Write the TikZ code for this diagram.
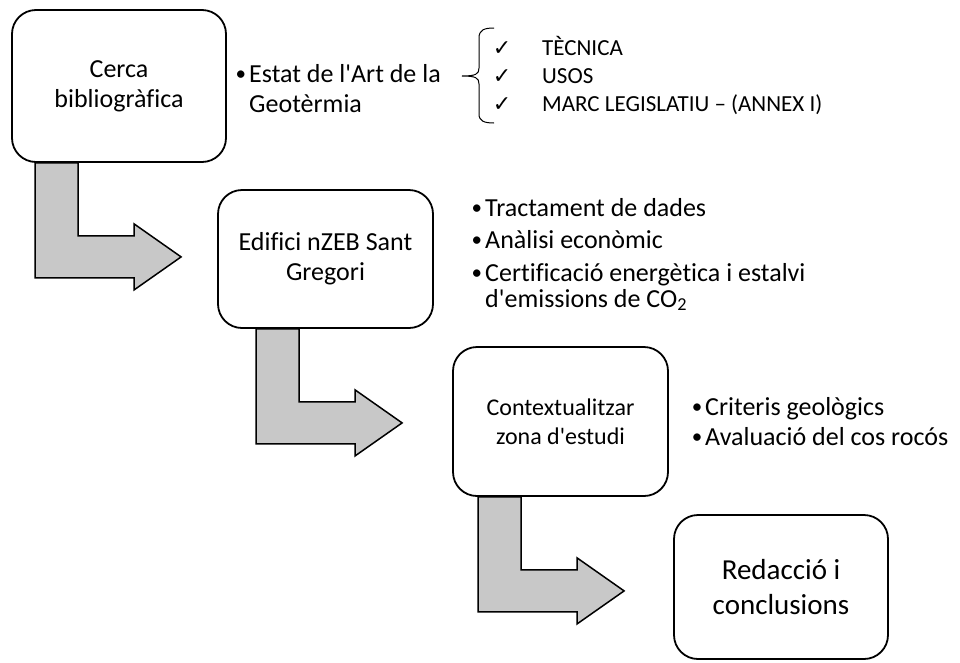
\documentclass[tikz,border=0pt]{standalone}
\usepackage{fontspec}
\setmainfont{Carlito}[Ligatures=NoCommon]
\newfontfamily\checkfont{DejaVu Sans}
\usetikzlibrary{backgrounds}
\definecolor{flowgray}{RGB}{200,200,200}
\newcommand{\ap}{\textquotesingle}
\newcommand{\bul}{\llap{\raisebox{1.5pt}{\fontsize{21}{21}\selectfont•}\hspace{3pt}}}
\tikzset{
  stepbox/.style={draw, line width=1.8pt, rounded corners=24pt, fill=white, align=center, inner sep=0pt},
  flow/.style={draw, line width=1.5pt, fill=flowgray, line join=miter},
  item/.style={anchor=base west, inner sep=0pt, font=\fontsize{26}{30}\selectfont},
  chk/.style={anchor=base, inner sep=0pt, font=\checkfont\fontsize{22}{24}\selectfont},
  chktext/.style={anchor=base west, inner sep=0pt, font=\fontsize{23}{27}\selectfont},
}
\begin{document}
\begin{tikzpicture}[x=1pt,y=-1pt]
        \useasboundingbox (0,0) rectangle (960,662);
        % steps
        \node[stepbox, minimum width=214pt, minimum height=152pt, font=\fontsize{26}{30}\selectfont](b1) at (119,86) {Cerca\\bibliogràfica};
        \node[stepbox, minimum width=215pt, minimum height=138pt, font=\fontsize{26}{30}\selectfont](b2) at (325.5,259) {Edifici nZEB Sant\\Gregori};
        \node[stepbox, minimum width=215pt, minimum height=149pt, font=\fontsize{24}{29}\selectfont](b3) at (560.5,421.5) {Contextualitzar\\zona d\ap estudi};
        \node[stepbox, minimum width=214pt, minimum height=144pt, font=\fontsize{29}{35}\selectfont](b4) at (781,587) {Redacció i\\conclusions};
        % bent arrows
        \begin{scope}[on background layer]
        \draw[flow] ([xshift=24pt]b1.south west) -- ++(0,115) -- ++(99,0) -- ++(0,12) -- ++(47,-33) -- ++(-47,-33) -- ++(0,12) -- ++(-56,0) -- ++(0,-73) -- cycle;
        \draw[flow] ([xshift=39pt]b2.south west) -- ++(0,115) -- ++(99,0) -- ++(0,12) -- ++(47,-33) -- ++(-47,-33) -- ++(0,12) -- ++(-56,0) -- ++(0,-73) -- cycle;
        \draw[flow] ([xshift=26pt]b3.south west) -- ++(0,115) -- ++(99,0) -- ++(0,12) -- ++(47,-33) -- ++(-47,-33) -- ++(0,12) -- ++(-56,0) -- ++(0,-73) -- cycle;
        \end{scope}
        % notes
        \node[item](s11) at (249,82) {\bul Estat de l\ap Art de la};
        \node[item](s12) at (249,112) {Geotèrmia};
        \node[item](s21) at (485,216) {\bul Tractament de dades};
        \node[item](s22) at (485,248) {\bul Anàlisi econòmic};
        \node[item](s23) at (485,281) {\bul Certificació energètica i estalvi};
        \node[item](s24) at (485,307) {d\ap emissions de CO\textsubscript{2}};
        \node[item](s31) at (705,415) {\bul Criteris geològics};
        \node[item](s32) at (705,445) {\bul Avaluació del cos rocós};
        % brace and checks
        \coordinate(br) at (462,76);
        \draw[line width=1pt] (494,28) .. controls (484,28) and (479,30) .. (479,38) -- (479,68) .. controls (479,74) and (476,76) .. (br) .. controls (476,76) and (479,78) .. (479,84) -- (479,114) .. controls (479,121) and (484,123) .. (494,123);
        \node[chk](c1) at (502,55) {✓};
        \node[chk](c2) at (502,83) {✓};
        \node[chk](c3) at (502,111) {✓};
        \node[chktext](k1) at (542,55) {TÈCNICA};
        \node[chktext](k2) at (542,83) {USOS};
        \node[chktext](k3) at (542,111) {MARC LEGISLATIU – (ANNEX I)};
    \end{tikzpicture}
\end{document}
